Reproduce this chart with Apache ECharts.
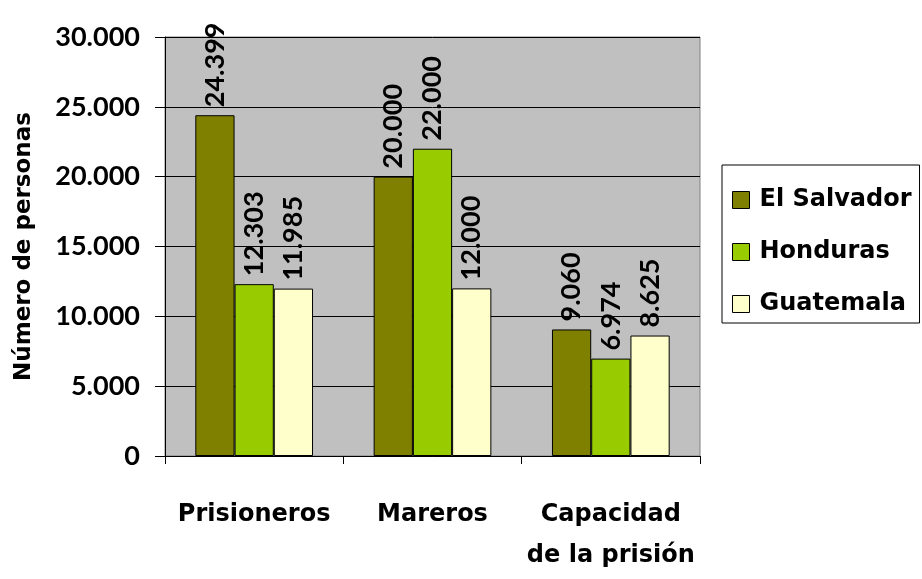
<!DOCTYPE html>
<html>
<head>
<meta charset="utf-8">
<script src="https://cdn.jsdelivr.net/npm/echarts@6/dist/echarts.min.js"></script>
<style>
html,body{margin:0;padding:0;background:#fff;}
#chart{width:922px;height:579px;}
</style>
</head>
<body>
<div id="chart"></div>
<script>
// Data
const categories = ['Prisioneros', 'Mareros', 'Capacidad\nde la prisión'];
const seriesNames = ['El Salvador', 'Honduras', 'Guatemala'];
const elSalvador = [24399, 20000, 9060];
const honduras = [12303, 22000, 6974];
const guatemala = [11985, 12000, 8625];
const yTicks = [0, 5000, 10000, 15000, 20000, 25000, 30000];

const colors = ['#808000', '#99CC00', '#FFFFCC'];
const WORD_FONT = '"DejaVu Sans", sans-serif';
const NUM_FONT = 'Lato, "DejaVu Sans", sans-serif';

function fmt(v) {
  return String(v).replace(/\B(?=(\d{3})+(?!\d))/g, '.');
}

const chart = echarts.init(document.getElementById('chart'));

const valueSets = [elSalvador, honduras, guatemala];
const series = seriesNames.map((name, i) => ({
  name: name,
  type: 'bar',
  data: valueSets[i],
  barGap: '0%',
  barCategoryGap: '34%',
  itemStyle: { color: colors[i], borderColor: '#000', borderWidth: 1 },
  label: {
    show: true,
    position: 'top',
    rotate: 90,
    align: 'left',
    verticalAlign: 'middle',
    distance: 8,
    formatter: p => fmt(p.value),
    color: '#000',
    fontFamily: NUM_FONT,
    fontWeight: 'bold',
    fontSize: 27
  }
}));

chart.setOption({
  animation: false,
  grid: {
    left: 165, right: 222, top: 37, bottom: 123,
    show: true, backgroundColor: '#C0C0C0', borderColor: '#808080', borderWidth: 1
  },
  legend: {
    orient: 'vertical',
    left: 722, top: 165,
    padding: [22, 8, 6, 10],
    itemGap: 26,
    itemWidth: 17, itemHeight: 17,
    borderColor: '#000', borderWidth: 1,
    icon: 'rect',
    textStyle: {
      fontFamily: WORD_FONT, fontWeight: 'bold', fontSize: 24, color: '#000',
      lineHeight: 26, padding: [0, 0, 0, 5]
    },
    data: seriesNames.map(n => ({ name: n, itemStyle: { borderColor: '#000', borderWidth: 1 } }))
  },
  xAxis: {
    type: 'category',
    data: categories,
    axisLine: { lineStyle: { color: '#000', width: 1 } },
    axisTick: { show: true, length: 8, lineStyle: { color: '#000' } },
    axisLabel: {
      interval: 0,
      hideOverlap: false,
      margin: 38,
      color: '#000',
      fontFamily: WORD_FONT,
      fontWeight: 'bold',
      fontSize: 24,
      lineHeight: 41
    }
  },
  yAxis: {
    type: 'value',
    min: 0, max: 30000, interval: 5000,
    name: 'Número de personas',
    nameLocation: 'middle',
    nameGap: 129,
    nameRotate: 90,
    nameTextStyle: { fontFamily: WORD_FONT, fontWeight: 'bold', fontSize: 23, color: '#000' },
    axisLine: { show: true, lineStyle: { color: '#000' } },
    axisTick: { show: true, length: 10, lineStyle: { color: '#000' } },
    splitLine: { show: true, lineStyle: { color: '#000', width: 1 } },
    axisLabel: {
      margin: 25,
      color: '#000',
      fontFamily: NUM_FONT,
      fontWeight: 'bold',
      fontSize: 27,
      formatter: v => yTicks.includes(v) ? fmt(v) : ''
    }
  },
  series: series
});
</script>
</body>
</html>
